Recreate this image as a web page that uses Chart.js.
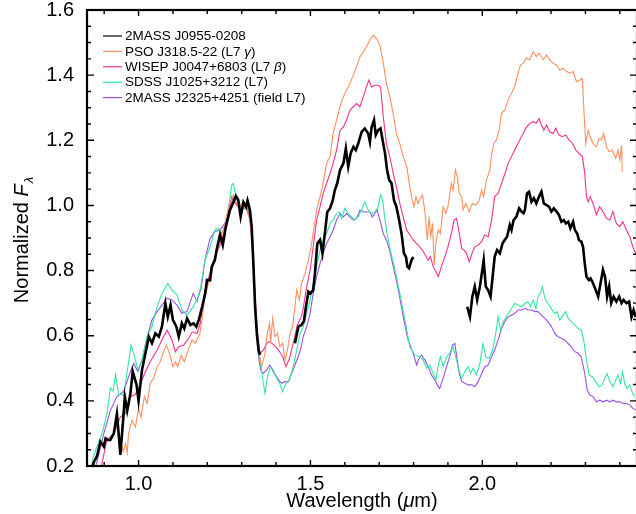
<!DOCTYPE html>
<html>
<head>
<meta charset="utf-8">
<title>L7 spectra</title>
<script src="https://cdn.jsdelivr.net/npm/chart.js@4.4.1/dist/chart.umd.min.js"></script>
<style>
  html, body { margin: 0; padding: 0; overflow: hidden; background: #fff; }
  #spectra { display: block; }
</style>
</head>
<body>
<canvas id="spectra" width="640" height="514"></canvas>
<script>
// Spectra, normalized flux vs wavelength (micron). null = gap in the data.
const j0955Wave = [0.864, 0.869, 0.879, 0.889, 0.899, 0.904, 0.911, 0.918, 0.928, 0.937, 0.942, 0.947, 0.955, 0.960, 0.967, 0.976, 0.983, 0.994, 1.000, 1.010, 1.020, 1.030, 1.039, 1.049, 1.059, 1.068, 1.078, 1.085, 1.093, 1.100, 1.110, 1.117, 1.126, 1.133, 1.141, 1.151, 1.160, 1.168, 1.175, 1.185, 1.194, 1.199, 1.208, 1.213, 1.222, 1.227, 1.237, 1.245, 1.254, 1.266, 1.276, 1.283, 1.290, 1.297, 1.305, 1.313, 1.317, 1.324, 1.329, 1.334, 1.339, 1.344, 1.349, 1.353,
  1.400,
  1.455, 1.465, 1.474, 1.481, 1.487, 1.494, 1.500, 1.508, 1.513, 1.520, 1.528, 1.535, 1.542, 1.549, 1.557, 1.565, 1.571, 1.578, 1.586, 1.596, 1.603, 1.610, 1.617, 1.625, 1.632, 1.639, 1.649, 1.658, 1.668, 1.673, 1.678, 1.685, 1.690, 1.697, 1.704, 1.710, 1.717, 1.723, 1.729, 1.736, 1.743, 1.750, 1.758, 1.765, 1.772, 1.778, 1.782, 1.787, 1.794, 1.799,
  1.880,
  1.956, 1.964, 1.971, 1.978, 1.985, 1.993, 2.000, 2.004, 2.010, 2.017, 2.024, 2.030, 2.036, 2.043, 2.051, 2.059, 2.065, 2.072, 2.080, 2.085, 2.091, 2.099, 2.107, 2.114, 2.120, 2.124, 2.130, 2.136, 2.143, 2.150, 2.157, 2.165, 2.172, 2.179, 2.187, 2.194, 2.201, 2.208, 2.216, 2.223, 2.230, 2.237, 2.243, 2.250, 2.256, 2.264, 2.269, 2.276, 2.281, 2.288, 2.293, 2.298, 2.303, 2.310, 2.315, 2.322, 2.330, 2.337, 2.344, 2.351, 2.357, 2.363, 2.369, 2.375, 2.382, 2.390, 2.398, 2.405, 2.411, 2.419, 2.427, 2.434, 2.440, 2.446];
const j0955Flux = [0.19, 0.21, 0.23, 0.275, 0.26, 0.285, 0.28, 0.28, 0.30, 0.36, 0.30, 0.234, 0.34, 0.413, 0.37, 0.42, 0.49, 0.45, 0.40, 0.495, 0.546, 0.597, 0.577, 0.607, 0.597, 0.628, 0.699, 0.658, 0.694, 0.648, 0.628, 0.597, 0.638, 0.622, 0.653, 0.633, 0.638, 0.628, 0.648, 0.689, 0.73, 0.771, 0.77, 0.812, 0.832, 0.863, 0.91, 0.878, 0.935, 0.986, 1.01, 1.029, 1.017, 0.965, 1.01, 0.996, 1.015, 0.986, 0.935, 0.822, 0.689, 0.607, 0.556, 0.541,
  null,
  0.577, 0.628, 0.633, 0.645, 0.689, 0.735, 0.73, 0.74, 0.79, 0.883, 0.894, 0.853, 0.914, 0.98, 0.991, 1.016, 1.047, 1.068, 1.108, 1.129, 1.175, 1.119, 1.16, 1.18, 1.17, 1.19, 1.226, 1.236, 1.221, 1.195, 1.241, 1.262, 1.216, 1.231, 1.236, 1.2, 1.16, 1.108, 1.078, 1.068, 1.016, 0.996, 0.955, 0.914, 0.853, 0.842, 0.812, 0.807, 0.832, 0.842,
  null,
  0.689, 0.658, 0.72, 0.751, 0.71, 0.751, 0.802, 0.832, 0.751, 0.74, 0.72, 0.781, 0.843, 0.863, 0.853, 0.884, 0.894, 0.904, 0.94, 0.925, 0.955, 0.965, 0.991, 0.981, 0.976, 0.986, 1.037, 1.042, 1.011, 1.022, 1.006, 1.027, 1.042, 1.006, 1.001, 0.996, 0.981, 0.991, 0.981, 0.971, 0.95, 0.955, 0.945, 0.95, 0.93, 0.95, 0.925, 0.914, 0.894, 0.889, 0.873, 0.822, 0.781, 0.771, 0.776, 0.761, 0.74, 0.72, 0.761, 0.802, 0.781, 0.72, 0.751, 0.70, 0.72, 0.705, 0.72, 0.70, 0.71, 0.70, 0.705, 0.658, 0.679, 0.658];

const pso318Wave = [0.947, 0.955, 0.962, 0.967, 0.971, 0.981, 0.991, 1.000, 1.007, 1.017, 1.025, 1.034, 1.044, 1.054, 1.063, 1.073, 1.081, 1.090, 1.100, 1.107, 1.114, 1.124, 1.133, 1.146, 1.156, 1.165, 1.178, 1.186, 1.193, 1.208, 1.222, 1.237, 1.251, 1.264, 1.276, 1.287, 1.300, 1.314, 1.324, 1.334, 1.342, 1.351, 1.358, 1.368, 1.373, 1.381, 1.384, 1.390, 1.397, 1.404, 1.411, 1.419, 1.426, 1.433, 1.441, 1.448, 1.455, 1.460, 1.468, 1.474, 1.484, 1.494, 1.503, 1.510, 1.518, 1.528, 1.537, 1.547, 1.557, 1.566, 1.576, 1.586, 1.596, 1.605, 1.615, 1.625, 1.634, 1.644, 1.654, 1.663, 1.673, 1.683, 1.692, 1.702, 1.712, 1.721, 1.731, 1.741, 1.750, 1.760, 1.770, 1.780, 1.789, 1.794, 1.801, 1.807, 1.813, 1.820, 1.826, 1.833, 1.840, 1.845, 1.850, 1.855, 1.860, 1.865, 1.872, 1.878, 1.886, 1.894, 1.900, 1.910, 1.915, 1.922, 1.927, 1.933, 1.940, 1.944, 1.952, 1.962, 1.971, 1.981, 1.991, 1.998, 2.004, 2.012, 2.022, 2.027, 2.034, 2.041, 2.049, 2.056, 2.066, 2.075, 2.085, 2.094, 2.104, 2.111, 2.119, 2.128, 2.138, 2.148, 2.157, 2.165, 2.177, 2.187, 2.196, 2.206, 2.216, 2.225, 2.235, 2.245, 2.254, 2.264, 2.274, 2.283, 2.291, 2.296, 2.301, 2.308, 2.314, 2.322, 2.332, 2.340, 2.346, 2.353, 2.361, 2.369, 2.378, 2.388, 2.395, 2.400, 2.405, 2.407];
const pso318Flux = [0.28, 0.244, 0.27, 0.24, 0.30, 0.34, 0.32, 0.377, 0.35, 0.413, 0.392, 0.454, 0.469, 0.505, 0.52, 0.551, 0.571, 0.546, 0.505, 0.52, 0.505, 0.54, 0.52, 0.561, 0.587, 0.577, 0.605, 0.66, 0.72, 0.781, 0.832, 0.894, 0.94, 1.006, 1.032, 0.996, 1.006, 0.986, 0.955, 0.822, 0.669, 0.546, 0.505, 0.546, 0.597, 0.638, 0.577, 0.653, 0.597, 0.607, 0.566, 0.577, 0.525, 0.556, 0.607, 0.628, 0.689, 0.74, 0.71, 0.761, 0.79, 0.832, 0.88, 0.93, 0.986, 1.027, 1.068, 1.129, 1.15, 1.221, 1.262, 1.303, 1.334, 1.354, 1.375, 1.40, 1.426, 1.456, 1.472, 1.487, 1.508, 1.523, 1.513, 1.492, 1.436, 1.375, 1.334, 1.282, 1.221, 1.19, 1.15, 1.119, 1.06, 1.027, 0.996, 1.027, 1.006, 1.022, 1.032, 0.981, 0.894, 0.966, 0.904, 0.945, 0.817, 0.884, 0.925, 0.914, 0.996, 0.976, 0.996, 1.068, 1.047, 1.109, 1.088, 1.037, 1.027, 0.986, 1.006, 0.981, 1.006, 1.001, 1.016, 1.047, 1.027, 1.078, 1.109, 1.155, 1.191, 1.201, 1.232, 1.283, 1.293, 1.324, 1.344, 1.365, 1.406, 1.431, 1.436, 1.452, 1.447, 1.472, 1.457, 1.467, 1.447, 1.462, 1.447, 1.436, 1.431, 1.416, 1.421, 1.411, 1.406, 1.411, 1.38, 1.385, 1.39, 1.283, 1.19, 1.231, 1.211, 1.19, 1.18, 1.206, 1.201, 1.221, 1.18, 1.165, 1.17, 1.145, 1.17, 1.14, 1.185, 1.104];

const j0047Wave = [0.890, 0.894, 0.908, 0.928, 0.947, 0.962, 0.976, 0.991, 1.005, 1.020, 1.034, 1.054, 1.068, 1.083, 1.097, 1.107, 1.117, 1.131, 1.146, 1.156, 1.170, 1.180, 1.193, 1.208, 1.222, 1.237, 1.251, 1.264, 1.276, 1.287, 1.300, 1.314, 1.324, 1.332, 1.339, 1.346, 1.353, 1.363, 1.373, 1.382, 1.394, 1.407, 1.419, 1.429, 1.439, 1.450, 1.462, 1.474, 1.480, 1.489, 1.499, 1.508, 1.518, 1.528, 1.537, 1.547, 1.557, 1.566, 1.576, 1.586, 1.596, 1.605, 1.615, 1.625, 1.634, 1.644, 1.654, 1.663, 1.670, 1.678, 1.687, 1.697, 1.704, 1.712, 1.721, 1.731, 1.741, 1.750, 1.760, 1.770, 1.780, 1.789, 1.799, 1.813, 1.826, 1.836, 1.843, 1.849, 1.857, 1.865, 1.872, 1.881, 1.891, 1.900, 1.910, 1.918, 1.925, 1.933, 1.940, 1.947, 1.954, 1.962, 1.970, 1.978, 1.988, 1.998, 2.007, 2.017, 2.027, 2.036, 2.046, 2.056, 2.066, 2.075, 2.085, 2.094, 2.104, 2.114, 2.124, 2.130, 2.138, 2.148, 2.157, 2.165, 2.172, 2.179, 2.187, 2.196, 2.206, 2.214, 2.223, 2.233, 2.243, 2.252, 2.262, 2.272, 2.281, 2.291, 2.298, 2.303, 2.308, 2.314, 2.322, 2.332, 2.341, 2.351, 2.361, 2.371, 2.380, 2.390, 2.400, 2.409, 2.419, 2.429, 2.438, 2.446];
const j0047Flux = [0.19, 0.21, 0.28, 0.30, 0.35, 0.362, 0.413, 0.42, 0.45, 0.49, 0.52, 0.556, 0.587, 0.617, 0.587, 0.551, 0.566, 0.571, 0.592, 0.612, 0.607, 0.64, 0.74, 0.792, 0.843, 0.878, 0.925, 0.996, 1.022, 1.001, 0.996, 0.991, 0.965, 0.873, 0.72, 0.607, 0.546, 0.556, 0.577, 0.582, 0.571, 0.556, 0.536, 0.505, 0.53, 0.577, 0.633, 0.66, 0.69, 0.75, 0.801, 0.873, 0.955, 0.996, 1.037, 1.068, 1.098, 1.129, 1.17, 1.231, 1.241, 1.262, 1.293, 1.303, 1.313, 1.303, 1.334, 1.364, 1.385, 1.364, 1.369, 1.369, 1.364, 1.272, 1.19, 1.149, 1.098, 1.057, 1.006, 0.965, 0.924, 0.91, 0.894, 0.878, 0.863, 0.843, 0.832, 0.843, 0.812, 0.797, 0.781, 0.812, 0.843, 0.873, 0.914, 0.955, 0.96, 0.914, 0.868, 0.863, 0.853, 0.827, 0.853, 0.873, 0.878, 0.889, 0.909, 0.904, 0.955, 1.027, 1.037, 1.068, 1.098, 1.129, 1.15, 1.17, 1.191, 1.211, 1.232, 1.242, 1.252, 1.257, 1.252, 1.267, 1.247, 1.231, 1.247, 1.226, 1.221, 1.237, 1.216, 1.211, 1.216, 1.201, 1.191, 1.17, 1.16, 1.15, 1.099, 1.027, 1.011, 1.027, 1.006, 0.971, 0.996, 0.981, 0.96, 0.955, 0.981, 0.945, 0.935, 0.95, 0.925, 0.904, 0.873, 0.853];

const j1025Wave = [0.862, 0.869, 0.879, 0.894, 0.908, 0.918, 0.926, 0.933, 0.942, 0.957, 0.969, 0.978, 0.986, 0.998, 1.010, 1.025, 1.039, 1.054, 1.068, 1.085, 1.097, 1.112, 1.126, 1.141, 1.156, 1.170, 1.180, 1.193, 1.208, 1.222, 1.232, 1.242, 1.254, 1.264, 1.271, 1.276, 1.283, 1.293, 1.305, 1.319, 1.329, 1.336, 1.342, 1.349, 1.356, 1.363, 1.368, 1.375, 1.382, 1.390, 1.400, 1.410, 1.419, 1.429, 1.439, 1.450, 1.462, 1.470, 1.479, 1.489, 1.499, 1.508, 1.518, 1.528, 1.537, 1.547, 1.557, 1.566, 1.576, 1.584, 1.591, 1.600, 1.610, 1.620, 1.629, 1.639, 1.649, 1.658, 1.668, 1.678, 1.687, 1.697, 1.704, 1.710, 1.717, 1.723, 1.731, 1.746, 1.760, 1.775, 1.789, 1.804, 1.818, 1.828, 1.838, 1.847, 1.857, 1.865, 1.872, 1.878, 1.886, 1.896, 1.905, 1.915, 1.925, 1.933, 1.940, 1.949, 1.959, 1.966, 1.973, 1.983, 1.993, 2.002, 2.010, 2.020, 2.030, 2.039, 2.046, 2.053, 2.061, 2.070, 2.082, 2.095, 2.104, 2.114, 2.124, 2.133, 2.140, 2.148, 2.156, 2.162, 2.169, 2.175, 2.182, 2.191, 2.200, 2.211, 2.218, 2.225, 2.235, 2.243, 2.250, 2.259, 2.269, 2.279, 2.288, 2.295, 2.303, 2.311, 2.320, 2.330, 2.340, 2.349, 2.356, 2.363, 2.371, 2.380, 2.388, 2.395, 2.402, 2.408, 2.414, 2.421, 2.429, 2.437, 2.443];
const j1025Flux = [0.19, 0.23, 0.26, 0.30, 0.36, 0.44, 0.43, 0.48, 0.42, 0.418, 0.505, 0.571, 0.546, 0.495, 0.525, 0.597, 0.628, 0.689, 0.73, 0.761, 0.74, 0.725, 0.679, 0.663, 0.684, 0.71, 0.745, 0.832, 0.873, 0.925, 0.93, 0.914, 0.945, 1.006, 1.063, 1.068, 1.027, 0.996, 0.991, 0.986, 0.925, 0.771, 0.638, 0.546, 0.505, 0.454, 0.423, 0.474, 0.50, 0.50, 0.474, 0.454, 0.428, 0.454, 0.464, 0.505, 0.566, 0.607, 0.627, 0.668, 0.709, 0.76, 0.812, 0.863, 0.894, 0.914, 0.945, 0.955, 0.975, 0.98, 0.96, 0.991, 0.975, 0.965, 0.955, 0.965, 0.986, 1.011, 0.986, 0.975, 0.98, 0.996, 1.032, 1.016, 0.955, 0.914, 0.87, 0.802, 0.73, 0.648, 0.566, 0.541, 0.535, 0.525, 0.50, 0.51, 0.484, 0.464, 0.51, 0.535, 0.505, 0.535, 0.546, 0.566, 0.525, 0.49, 0.469, 0.49, 0.505, 0.484, 0.50, 0.479, 0.515, 0.576, 0.535, 0.53, 0.556, 0.607, 0.658, 0.617, 0.643, 0.658, 0.679, 0.699, 0.694, 0.689, 0.699, 0.704, 0.689, 0.709, 0.684, 0.72, 0.73, 0.75, 0.715, 0.699, 0.684, 0.668, 0.674, 0.648, 0.663, 0.674, 0.653, 0.643, 0.633, 0.622, 0.617, 0.587, 0.525, 0.479, 0.474, 0.459, 0.443, 0.449, 0.469, 0.484, 0.459, 0.443, 0.464, 0.479, 0.454, 0.489, 0.454, 0.438, 0.449, 0.423, 0.413];

const j2325Wave = [0.872, 0.879, 0.899, 0.918, 0.937, 0.957, 0.971, 0.986, 0.998, 1.010, 1.025, 1.039, 1.054, 1.068, 1.083, 1.097, 1.112, 1.126, 1.141, 1.159, 1.170, 1.182, 1.193, 1.208, 1.222, 1.237, 1.251, 1.264, 1.271, 1.281, 1.293, 1.305, 1.319, 1.329, 1.336, 1.342, 1.349, 1.355, 1.363, 1.373, 1.382, 1.392, 1.404, 1.416, 1.426, 1.436, 1.445, 1.455, 1.468, 1.474, 1.479, 1.489, 1.499, 1.508, 1.518, 1.528, 1.537, 1.547, 1.557, 1.566, 1.576, 1.586, 1.596, 1.605, 1.615, 1.625, 1.634, 1.644, 1.654, 1.663, 1.673, 1.680, 1.687, 1.694, 1.702, 1.712, 1.721, 1.731, 1.741, 1.755, 1.770, 1.784, 1.799, 1.809, 1.816, 1.823, 1.833, 1.843, 1.852, 1.862, 1.869, 1.876, 1.886, 1.896, 1.905, 1.913, 1.920, 1.927, 1.933, 1.940, 1.949, 1.959, 1.969, 1.978, 1.988, 1.998, 2.007, 2.017, 2.027, 2.036, 2.046, 2.056, 2.065, 2.075, 2.085, 2.095, 2.104, 2.114, 2.124, 2.133, 2.143, 2.153, 2.162, 2.172, 2.182, 2.191, 2.201, 2.211, 2.220, 2.230, 2.240, 2.250, 2.259, 2.269, 2.279, 2.288, 2.298, 2.305, 2.313, 2.322, 2.332, 2.342, 2.351, 2.361, 2.371, 2.380, 2.390, 2.400, 2.409, 2.419, 2.429, 2.438, 2.446];
const j2325Flux = [0.19, 0.213, 0.30, 0.37, 0.413, 0.43, 0.474, 0.515, 0.49, 0.525, 0.597, 0.648, 0.674, 0.694, 0.715, 0.71, 0.694, 0.669, 0.674, 0.73, 0.705, 0.745, 0.832, 0.899, 0.919, 0.925, 0.945, 0.996, 1.027, 1.006, 0.991, 0.996, 0.991, 0.925, 0.771, 0.638, 0.536, 0.495, 0.484, 0.495, 0.51, 0.49, 0.469, 0.454, 0.459, 0.459, 0.484, 0.51, 0.546, 0.57, 0.597, 0.627, 0.668, 0.73, 0.781, 0.822, 0.853, 0.883, 0.904, 0.924, 0.955, 0.975, 0.965, 0.975, 0.965, 0.955, 0.96, 0.986, 0.98, 0.98, 0.98, 0.965, 0.975, 0.986, 0.955, 0.914, 0.894, 0.86, 0.812, 0.745, 0.658, 0.587, 0.546, 0.51, 0.53, 0.541, 0.525, 0.505, 0.479, 0.464, 0.449, 0.438, 0.469, 0.505, 0.535, 0.571, 0.576, 0.525, 0.484, 0.459, 0.454, 0.449, 0.449, 0.443, 0.459, 0.484, 0.505, 0.51, 0.535, 0.556, 0.587, 0.622, 0.643, 0.658, 0.663, 0.669, 0.679, 0.679, 0.684, 0.679, 0.679, 0.674, 0.674, 0.663, 0.653, 0.643, 0.628, 0.607, 0.597, 0.592, 0.587, 0.576, 0.566, 0.551, 0.546, 0.535, 0.484, 0.433, 0.418, 0.413, 0.397, 0.402, 0.397, 0.402, 0.397, 0.402, 0.397, 0.397, 0.392, 0.392, 0.387, 0.377, 0.372];

const xTickLabels = [1.0, 1.5, 2.0];
const legendLabels = [
  [{ t: "2MASS J0955-0208" }],
  [{ t: "PSO J318.5-22 (L7 " }, { t: "\u03b3", it: true }, { t: ")" }],
  [{ t: "WISEP J0047+6803 (L7 " }, { t: "\u03b2", it: true }, { t: ")" }],
  [{ t: "SDSS J1025+3212 (L7)" }],
  [{ t: "2MASS J2325+4251 (field L7)" }]
];
const colors = ["#000000", "#ff8f5c", "#f5308f", "#30e8a2", "#9a52e8"];
const widths = [2.6, 1.1, 1.1, 1.1, 1.1];

const FONT = '"Liberation Sans", Arial, Helvetica, sans-serif';
Chart.defaults.font.family = FONT;
Chart.defaults.color = "#000";

function zip(wave, flux) {
  return wave.map((w, i) => ({ x: w, y: flux[i] }));
}

const series = [
  zip(j0955Wave, j0955Flux),
  zip(pso318Wave, pso318Flux),
  zip(j0047Wave, j0047Flux),
  zip(j1025Wave, j1025Flux),
  zip(j2325Wave, j2325Flux)
];

// draws a run of text pieces, some in italic, starting at x
function drawRich(ctx, parts, x, y, size) {
  parts.forEach(p => {
    ctx.font = (p.it ? "italic " : "") + size + "px " + FONT;
    ctx.fillText(p.t, x, y);
    x += ctx.measureText(p.t).width;
  });
  return x;
}

const framePlugin = {
  id: "frame",
  afterDraw(chart) {
    const { ctx, chartArea: a, scales } = chart;
    const xs = scales.x, ys = scales.y;
    ctx.save();
    ctx.strokeStyle = "#000";
    ctx.lineWidth = 2.2;
    ctx.strokeRect(a.left, a.top, a.right - a.left, a.bottom - a.top);

    // inward ticks on all four sides
    ctx.lineWidth = 1.4;
    ctx.beginPath();
    for (let i = 9; i <= 24; i++) {
      const px = xs.getPixelForValue(i / 10);
      const len = i % 5 === 0 ? 6 : 4;
      ctx.moveTo(px, a.bottom); ctx.lineTo(px, a.bottom - len);
      ctx.moveTo(px, a.top); ctx.lineTo(px, a.top + len);
    }
    for (let i = 4; i <= 32; i++) {
      const py = ys.getPixelForValue(i / 20);
      const len = i % 4 === 0 ? 7 : 4;
      ctx.moveTo(a.left, py); ctx.lineTo(a.left + len, py);
      ctx.moveTo(a.right, py); ctx.lineTo(a.right - len, py);
    }
    ctx.stroke();

    // legend
    ctx.fillStyle = "#000";
    ctx.textBaseline = "middle";
    legendLabels.forEach((parts, k) => {
      const y = 36 + k * 15.4;
      ctx.strokeStyle = colors[k];
      ctx.lineWidth = 1.2;
      ctx.beginPath();
      ctx.moveTo(103, y); ctx.lineTo(122, y);
      ctx.stroke();
      drawRich(ctx, parts, 125, y + 0.5, 13.5);
    });

    // axis titles
    ctx.textBaseline = "alphabetic";
    const xParts = [{ t: "Wavelength (" }, { t: "\u03bc", it: true }, { t: "m)" }];
    let w = 0;
    xParts.forEach(p => {
      ctx.font = (p.it ? "italic " : "") + "20px " + FONT;
      w += ctx.measureText(p.t).width;
    });
    drawRich(ctx, xParts, (a.left + a.right) / 2 - w / 2, 507, 20);

    ctx.translate(28, (a.top + a.bottom) / 2 + 2);
    ctx.rotate(-Math.PI / 2);
    ctx.font = "20px " + FONT;
    const t1 = "Normalized ";
    const w1 = ctx.measureText(t1).width;
    ctx.font = "italic 20px " + FONT;
    const w2 = ctx.measureText("F").width;
    ctx.font = "italic 13px " + FONT;
    const w3 = ctx.measureText("\u03bb").width;
    const x0 = -(w1 + w2 + w3 + 1) / 2;
    ctx.font = "20px " + FONT;
    ctx.fillText(t1, x0, 0);
    ctx.font = "italic 20px " + FONT;
    ctx.fillText("F", x0 + w1, 0);
    ctx.font = "italic 13px " + FONT;
    ctx.fillText("\u03bb", x0 + w1 + w2 + 1, 5);
    ctx.restore();
  }
};

// keep the plot box fixed: no extra room for the outer tick labels
function fixBox(size) {
  return s => {
    if (s.isHorizontal()) s.height = size; else s.width = size;
    s.paddingTop = 0; s.paddingBottom = 0;
    s.paddingLeft = 0; s.paddingRight = 0;
  };
}

new Chart(document.getElementById("spectra"), {
  type: "line",
  data: {
    datasets: series.map((d, k) => ({
      label: legendLabels[k].map(p => p.t).join(""),
      data: d,
      borderColor: colors[k],
      borderWidth: widths[k],
      pointRadius: 0,
      tension: 0,
      fill: false,
      spanGaps: false,
      clip: 0
    }))
  },
  options: {
    responsive: false,
    animation: false,
    devicePixelRatio: 1,
    layout: { padding: { left: 0, top: 10, right: 3, bottom: 0 } },
    plugins: { legend: { display: false }, tooltip: { enabled: false } },
    scales: {
      x: {
        type: "linear",
        min: 0.85,
        max: 2.45,
        grid: { display: false, drawTicks: false },
        border: { display: false },
        ticks: {
          font: { size: 20, lineHeight: 1 },
          color: "#000",
          padding: 8,
          maxRotation: 0,
          callback: v => v.toFixed(1)
        },
        afterBuildTicks: s => { s.ticks = xTickLabels.map(v => ({ value: v })); },
        afterFit: fixBox(48)
      },
      y: {
        min: 0.2,
        max: 1.6,
        grid: { display: false, drawTicks: false },
        border: { display: false },
        ticks: {
          stepSize: 0.2,
          font: { size: 20, lineHeight: 1 },
          color: "#000",
          padding: 13,
          callback: v => v.toFixed(1)
        },
        afterFit: fixBox(87)
      }
    }
  },
  plugins: [framePlugin]
});
</script>
</body>
</html>
